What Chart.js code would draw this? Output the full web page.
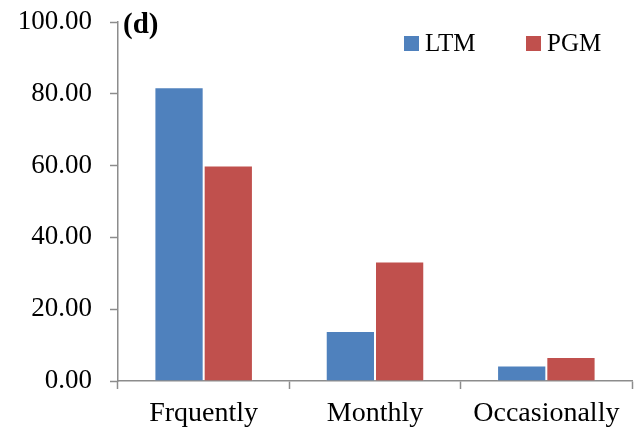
<!DOCTYPE html>
<html>
<head>
<meta charset="utf-8">
<script src="https://cdn.jsdelivr.net/npm/chart.js@4"></script>
<style>
  html, body { margin: 0; padding: 0; background: #fff; }
  #wrap { width: 642px; height: 434px; }
</style>
</head>
<body>
<div id="wrap"><canvas id="usageChart"></canvas></div>
<script>
// Chart data.
var categories = ['Frquently', 'Monthly', 'Occasionally'];
var ltmValues = [81.8, 13.9, 4.3];
var pgmValues = [60.0, 33.3, 6.7];
var yTicks = [0, 20, 40, 60, 80, 100];
var panelLabel = '(d)';

var serif = '"Liberation Serif", "Times New Roman", serif';

// Draws the panel label and the small legend inside the plot, the way Excel placed them.
var overlayPlugin = {
    id: 'overlay',
    afterDraw: function (chart) {
        var ctx = chart.ctx;
        var area = chart.chartArea;
        ctx.save();

        ctx.fillStyle = '#000';
        ctx.font = 'bold 29px ' + serif;
        ctx.textAlign = 'left';
        ctx.textBaseline = 'alphabetic';
        ctx.fillText(panelLabel, area.left + 5, 33);

        // legend entries
        var legendX = [404, 526];
        ctx.font = '25px ' + serif;
        ctx.textBaseline = 'middle';
        chart.data.datasets.forEach(function (ds, i) {
            ctx.fillStyle = ds.backgroundColor;
            ctx.fillRect(legendX[i], 36, 15, 15);
            ctx.fillStyle = '#000';
            ctx.fillText(ds.label, legendX[i] + 21, 44);
        });
        ctx.restore();
    }
};

var ctx = document.getElementById('usageChart').getContext('2d');
var chart = new Chart(ctx, {
    type: 'bar',
    data: {
        labels: categories,
        datasets: [{
            label: 'LTM',
            backgroundColor: '#4f81bd',
            borderColor: 'rgba(255,255,255,0.3)',
            borderWidth: 1,
            data: ltmValues
        }, {
            label: 'PGM',
            backgroundColor: '#c0504d',
            borderColor: 'rgba(255,255,255,0.3)',
            borderWidth: 1,
            data: pgmValues
        }]
    },
    options: {
        responsive: true,
        maintainAspectRatio: false,
        animation: false,
        devicePixelRatio: 1,
        layout: { padding: { top: 22, right: 10, left: 0, bottom: 0 } },
        datasets: {
            bar: { categoryPercentage: 0.575, barPercentage: 1.0 }
        },
        plugins: {
            legend: { display: false },
            tooltip: { enabled: false }
        },
        scales: {
            x: {
                offset: true,
                grid: {
                    offset: true,
                    drawOnChartArea: false,
                    drawTicks: true,
                    tickLength: 8,
                    tickWidth: 1.5,
                    tickColor: '#8c8c8c'
                },
                border: { display: true, color: '#8c8c8c', width: 1.5 },
                ticks: {
                    color: '#000',
                    padding: 8,
                    maxRotation: 0,
                    font: { family: serif, size: 28 }
                },
                afterFit: function (scale) {
                    scale.height = 53;
                    scale.paddingLeft = 0;
                    scale.paddingRight = 0;
                }
            },
            y: {
                min: 0,
                max: 100,
                afterBuildTicks: function (scale) {
                    scale.ticks = yTicks.map(function (v) { return { value: v }; });
                },
                grid: {
                    drawOnChartArea: false,
                    drawTicks: true,
                    tickLength: 8,
                    tickWidth: 1.5,
                    tickColor: '#8c8c8c'
                },
                border: { display: true, color: '#8c8c8c', width: 1.5 },
                ticks: {
                    color: '#000',
                    padding: 18,
                    font: { family: serif, size: 27 },
                    callback: function (value) { return Number(value).toFixed(2); }
                },
                afterFit: function (scale) {
                    scale.width = 118;
                    scale.paddingTop = 0;
                    scale.paddingBottom = 0;
                }
            }
        }
    },
    plugins: [overlayPlugin]
});
</script>
</body>
</html>
